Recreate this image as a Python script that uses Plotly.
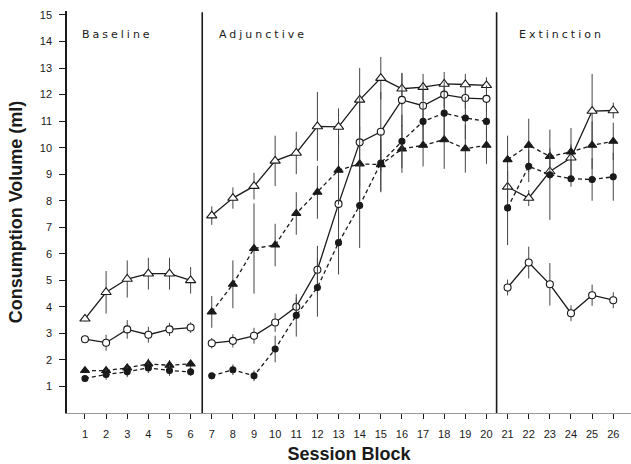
import plotly.graph_objects as go

blocks = list(range(1, 27))
phase_ranges = [(1, 6), (7, 20), (21, 26)]
phase_names = ["Baseline", "Adjunctive", "Extinction"]
phase_label_x = [0.78, 7.25, 21.45]

open_tri = [3.55, 4.55, 5.05, 5.25, 5.25, 5.0,
            7.44, 8.1, 8.55, 9.5, 9.8, 10.8, 10.78, 11.8, 12.62, 12.22, 12.28, 12.4, 12.38, 12.35,
            8.52, 8.1, 9.1, 9.62, 11.38, 11.4]
open_tri_err = [0.1, 0.8, 0.7, 0.6, 0.6, 0.5,
                0.35, 0.4, 0.5, 0.95, 0.8, 1.3, 0.7, 1.2, 0.8, 0.6, 0.5, 0.45, 0.4, 0.3,
                0.6, 0.3, 0.3, 0.5, 1.4, 0.3]

open_circ = [2.78, 2.65, 3.15, 2.95, 3.15, 3.22,
             2.63, 2.72, 2.91, 3.41, 4.0, 5.4, 7.88, 10.2, 10.6, 11.8, 11.58, 12.0, 11.87, 11.84,
             4.73, 5.67, 4.85, 3.76, 4.44, 4.25]
open_circ_err = [0.1, 0.3, 0.35, 0.3, 0.25, 0.2,
                 0.2, 0.25, 0.3, 0.35, 0.35, 0.9, 0.9, 1.7, 1.5, 1.0, 0.8, 0.5, 0.4, 0.5,
                 0.3, 0.6, 0.8, 0.3, 0.4, 0.3]

fill_tri = [1.6, 1.6, 1.7, 1.85, 1.8, 1.85,
            3.81, 4.85, 6.2, 6.33, 7.52, 8.32, 9.15, 9.39, 9.36, 9.95, 10.09, 10.3, 9.96, 10.09,
            9.55, 10.09, 9.67, 9.84, 10.09, 10.24]
fill_tri_err = [0.1, 0.15, 0.15, 0.2, 0.2, 0.15,
                0.6, 0.9, 1.7, 0.8, 0.8, 1.0, 1.3, 1.4, 1.0, 0.9, 0.8, 1.1, 0.9, 0.7,
                0.9, 1.0, 0.3, 0.9, 0.9, 0.7]

fill_circ = [1.3, 1.45, 1.55, 1.7, 1.6, 1.55,
             1.4, 1.63, 1.4, 2.41, 3.68, 4.73, 6.42, 7.82, 9.42, 10.24, 10.99, 11.3, 11.12, 10.99,
             7.73, 9.3, 8.98, 8.83, 8.8, 8.9]
fill_circ_err = [0.1, 0.2, 0.2, 0.2, 0.2, 0.15,
                 0.1, 0.2, 0.2, 0.5, 0.8, 1.1, 1.2, 1.6, 1.1, 1.0, 0.7, 0.9, 0.8, 0.7,
                 1.4, 0.6, 1.7, 0.3, 0.8, 0.9]

y_ticks = list(range(1, 16))
x_ticks = blocks

INK = "#1a1a1a"
# (values, errors, symbol, filled, dashed, size)
series = [
    (open_tri, open_tri_err, "triangle-up", False, False, 9),
    (open_circ, open_circ_err, "circle", False, False, 7),
    (fill_tri, fill_tri_err, "triangle-up", True, True, 8),
    (fill_circ, fill_circ_err, "circle", True, True, 6),
]

fig = go.Figure()
for vals, errs, sym, filled, dashed, msize in series:
    for a, b in phase_ranges:
        i0, i1 = a - 1, b
        fig.add_trace(go.Scatter(
            x=blocks[i0:i1], y=vals[i0:i1],
            mode="lines+markers",
            line=dict(color=INK, width=1.3, dash=("4px,3px" if dashed else "solid")),
            marker=dict(symbol=sym, size=msize, color=(INK if filled else "white"),
                        line=dict(color=INK, width=1.1)),
            error_y=dict(type="data", array=errs[i0:i1], visible=True,
                         width=0, thickness=1, color="#444"),
            showlegend=False,
        ))

for xd in [6.55, 20.48]:
    fig.add_shape(type="line", xref="x", yref="y", x0=xd, x1=xd, y0=0, y1=15.1,
                  line=dict(color=INK, width=1.6))

for name, lx in zip(phase_names, phase_label_x):
    fig.add_annotation(x=lx, y=14.25, xref="x", yref="y",
                       text='<span style="letter-spacing:3px">' + name + '</span>',
                       showarrow=False, xanchor="left", yanchor="middle",
                       font=dict(family="DejaVu Sans", size=11, color=INK))

fig.update_layout(
    width=631, height=464,
    margin=dict(l=67, r=0, t=11, b=51),
    paper_bgcolor="white", plot_bgcolor="white",
    font=dict(family="Liberation Sans, Arial", color=INK),
)
fig.update_xaxes(
    range=[0.15, 26.84], tickvals=x_ticks, ticktext=[str(t) for t in x_ticks],
    showgrid=False, zeroline=False, showline=True, linecolor="#999", linewidth=1,
    ticks="outside", ticklen=5, tickcolor=INK, tickfont=dict(size=11),
    ticklabelstandoff=6,
    title=dict(text="<b>Session Block</b>", font=dict(size=18), standoff=8),
)
fig.update_yaxes(
    range=[0, 15.15], tickvals=y_ticks, ticktext=[str(t) for t in y_ticks],
    showgrid=False, zeroline=False, showline=True, linecolor=INK, linewidth=1.5,
    ticks="outside", ticklen=6, tickcolor=INK, tickfont=dict(size=11),
    ticklabelstandoff=5,
    title=dict(text="<b>Consumption Volume (ml)</b>", font=dict(size=18), standoff=12),
)

fig.write_html("out.html", config={"displayModeBar": False},
               post_script="document.body.style.margin='0';document.body.style.overflow='hidden';")
